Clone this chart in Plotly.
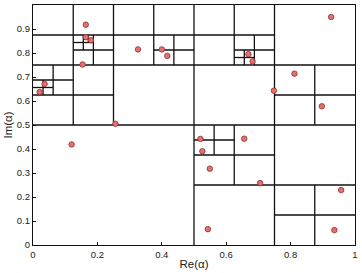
import plotly.graph_objects as go

# Data points (Re, Im)
re_vals = [0.120, 0.256, 0.0205, 0.036, 0.154, 0.164, 0.164, 0.180, 0.326, 0.400, 0.417,
           0.669, 0.682, 0.926, 0.748, 0.812, 0.897, 0.520, 0.526, 0.656, 0.549, 0.7055,
           0.543, 0.957, 0.936]
im_vals = [0.419, 0.505, 0.637, 0.671, 0.752, 0.918, 0.866, 0.853, 0.815, 0.815, 0.788,
           0.795, 0.765, 0.950, 0.643, 0.714, 0.578, 0.442, 0.391, 0.443, 0.318, 0.258,
           0.066, 0.229, 0.062]

x_ticks = [0, 0.2, 0.4, 0.6, 0.8, 1]
x_ticklabels = ["0", "0.2", "0.4", "0.6", "0.8", "1"]
y_ticks = [0, 0.1, 0.2, 0.3, 0.4, 0.5, 0.6, 0.7, 0.8, 0.9, 1]
y_ticklabels = ["0", "0.1", "0.2", "0.3", "0.4", "0.5", "0.6", "0.7", "0.8", "0.9", "1"]

# Build a capacity-1 quadtree from the points
pts = list(zip(re_vals, im_vals))
lx, ly = [], []


def build(x0, x1, y0, y1, p):
    if len(p) <= 1:
        return
    mx, my = (x0 + x1) / 2, (y0 + y1) / 2
    lx.extend([mx, mx, None, x0, x1, None])
    ly.extend([y0, y1, None, my, my, None])
    build(x0, mx, y0, my, [q for q in p if q[0] < mx and q[1] < my])
    build(mx, x1, y0, my, [q for q in p if q[0] >= mx and q[1] < my])
    build(x0, mx, my, y1, [q for q in p if q[0] < mx and q[1] >= my])
    build(mx, x1, my, y1, [q for q in p if q[0] >= mx and q[1] >= my])


build(0, 1, 0, 1, pts)

fig = go.Figure()
fig.add_trace(go.Scatter(x=lx, y=ly, mode="lines",
                         line=dict(color="#111111", width=1.3),
                         hoverinfo="skip", showlegend=False))
fig.add_trace(go.Scatter(x=re_vals, y=im_vals, mode="markers",
                         marker=dict(size=5.5, color="#e07272",
                                     line=dict(color="#9a2a2a", width=0.8)),
                         showlegend=False))

fam = "Liberation Sans, Arial, sans-serif"
font = dict(family=fam, size=9.5, color="#222222")
axis_common = dict(range=[0, 1], showline=True, mirror=True, linecolor="#111111",
                   linewidth=1.3, ticks="inside", ticklen=3, tickcolor="#111111",
                   showgrid=False, zeroline=False, tickfont=font)
fig.update_xaxes(tickvals=x_ticks, ticktext=x_ticklabels,
                 title=dict(text="Re(α)", font=dict(family=fam, size=11.5, color="#222222"),
                            standoff=1), **axis_common)
fig.update_yaxes(tickvals=y_ticks, ticktext=y_ticklabels,
                 title=dict(text="Im(α)", font=dict(family=fam, size=11.5, color="#222222"),
                            standoff=1), **axis_common)
fig.update_layout(width=362, height=273, margin=dict(l=33, r=4, t=5, b=25),
                  plot_bgcolor="white", paper_bgcolor="white")
fig.write_html("out.html")
